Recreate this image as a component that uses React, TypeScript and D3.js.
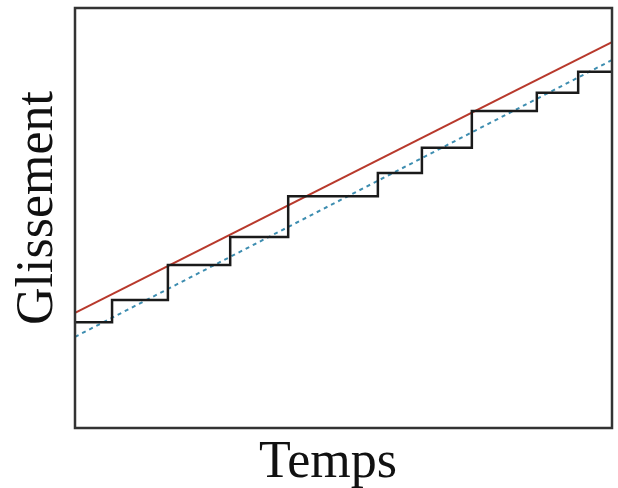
import React, { useEffect, useRef } from "react";
import * as d3 from "d3";

// stick-slip steps (time where each level starts, level)
const stepTimes = [0, 6.9, 17.3, 28.9, 39.7, 56.4, 64.6, 73.9, 86.0, 93.7, 100];
const stepValues = [25.2, 30.5, 38.8, 45.5, 55.2, 60.7, 66.7, 75.5, 79.8, 84.8, 84.8];

// straight trends
const trendTimes = [0, 100];
const upperTrend = [27.4, 91.9];
const lowerTrend = [21.7, 87.6];

const xLabel = "Temps";
const yLabel = "Glissement";

const App = () => {
    const svgRef = useRef<SVGSVGElement>(null);

    useEffect(() => {
        const width = 618;
        const height = 488;
        const margin = { top: 8, right: 6, bottom: 60, left: 75 };

        const svg = d3.select(svgRef.current);
        svg.selectAll("*").remove();

        const x = d3.scaleLinear().domain([0, 100]).range([margin.left, width - margin.right]);
        const y = d3.scaleLinear().domain([0, 100]).range([height - margin.bottom, margin.top]);

        const line = d3
            .line<[number, number]>()
            .x((d) => x(d[0]))
            .y((d) => y(d[1]));

        // lower trend (dashed blue)
        svg.append("path")
            .datum(trendTimes.map((t, i) => [t, lowerTrend[i]] as [number, number]))
            .attr("d", line)
            .attr("fill", "none")
            .attr("stroke", "#3d8db0")
            .attr("stroke-width", 2)
            .attr("stroke-dasharray", "4,4");

        // upper trend (red)
        svg.append("path")
            .datum(trendTimes.map((t, i) => [t, upperTrend[i]] as [number, number]))
            .attr("d", line)
            .attr("fill", "none")
            .attr("stroke", "#b8392c")
            .attr("stroke-width", 2);

        // steps
        svg.append("path")
            .datum(stepTimes.map((t, i) => [t, stepValues[i]] as [number, number]))
            .attr("d", line.curve(d3.curveStepAfter))
            .attr("fill", "none")
            .attr("stroke", "#1a1a1a")
            .attr("stroke-width", 2.5);

        // frame
        svg.append("rect")
            .attr("x", x(0))
            .attr("y", y(100))
            .attr("width", x(100) - x(0))
            .attr("height", y(0) - y(100))
            .attr("fill", "none")
            .attr("stroke", "#333")
            .attr("stroke-width", 2.5);

        svg.append("text")
            .attr("x", 328)
            .attr("y", 477)
            .attr("text-anchor", "middle")
            .style("font-family", "'Liberation Serif', 'Times New Roman', serif")
            .style("font-size", "52px")
            .attr("fill", "#111")
            .text(xLabel);

        svg.append("text")
            .attr("transform", "translate(52,208) rotate(-90)")
            .attr("text-anchor", "middle")
            .style("font-family", "'Liberation Serif', 'Times New Roman', serif")
            .style("font-size", "52px")
            .attr("fill", "#111")
            .text(yLabel);
    }, []);

    return (
        <svg
            ref={svgRef}
            width={618}
            height={488}
            style={{ position: "absolute", left: 0, top: 0, background: "#fff" }}
        />
    );
};

export default App;
